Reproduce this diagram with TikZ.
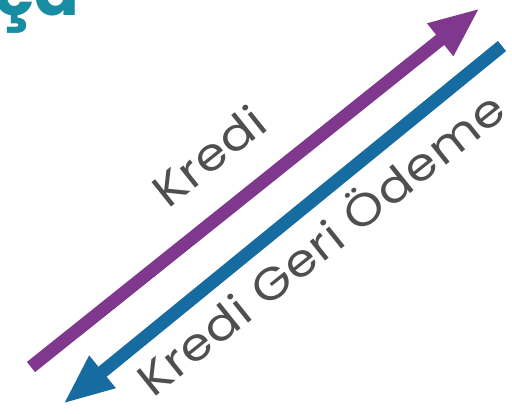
\documentclass[tikz,border=0pt]{standalone}
\usepackage{fontspec}
\setmainfont{Poppins}
\newfontfamily\labelfont{Poppins}[FakeStretch=1.12, LetterSpace=2]
\usetikzlibrary{arrows.meta}
\definecolor{flowpurple}{RGB}{128,56,142}
\definecolor{flowblue}{RGB}{22,108,160}
\definecolor{labelgray}{RGB}{78,80,80}
\definecolor{titleteal}{RGB}{24,140,162}
\tikzset{
  flow/.style={line width=13pt, -{Triangle[length=51pt,width=38pt]}},
  flowlabel/.style={text=labelgray, font=\labelfont\fontsize{45}{45}\selectfont, anchor=base, rotate=38.6, inner sep=0pt},
}
\begin{document}
\begin{tikzpicture}[x=1pt,y=-1pt]
\useasboundingbox (0,0) rectangle (512,413);
\clip (0,0) rectangle (512,413);
% heading, cut by the top edge
\node[anchor=base west, inner sep=0pt, text=titleteal, font=\fontsize{66}{66}\bfseries\selectfont] (title) at (-6,15) {ça};
% end points of the two flows
\coordinate (creditstart) at (31,367);
\coordinate (credittip) at (480,8);
\coordinate (repaystart) at (502,46);
\coordinate (repaytip) at (63,404);
\draw[flow, flowpurple] (creditstart) -- (credittip);
\draw[flow, flowblue] (repaystart) -- (repaytip);
% labels along the flows
\node[flowlabel] (credit) at (219,169) {Kredi};
\node[flowlabel] (repay) at (331,257) {Kredi Geri Ödeme};
\end{tikzpicture}
\end{document}
